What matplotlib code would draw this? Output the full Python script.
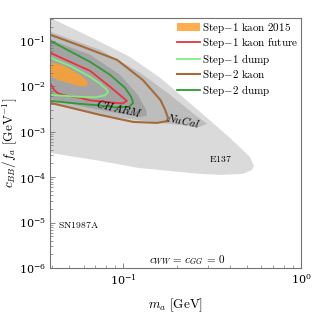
import numpy as np
import matplotlib
matplotlib.use('Agg')
from matplotlib import pyplot as plt
from matplotlib.patches import Patch
from matplotlib.lines import Line2D

plt.rcParams['mathtext.fontset'] = 'cm'
plt.rcParams['font.family'] = 'serif'
plt.rcParams['font.serif'] = ['DejaVu Serif']

# excluded regions (m_a [GeV], c_BB/f_a [GeV^-1])
e137_x = [0.035, 0.039, 0.0653, 0.109, 0.162, 0.271, 0.399, 0.516, 0.544, 0.530, 0.472, 0.351, 0.271, 0.121, 0.0743, 0.039, 0.035]
e137_y = [0.40, 0.321, 0.122, 0.0445, 0.0153, 0.00273, 7.3e-4, 2.79e-4, 1.77e-4, 1.44e-4, 1.18e-4, 1.12e-4, 1.18e-4, 1.6e-4, 2.28e-4, 3.41e-4, 3.5e-4]

nucal_x = [0.039, 0.0743, 0.125, 0.184, 0.254, 0.297, 0.271, 0.238, 0.142, 0.0743, 0.039]
nucal_y = [0.158, 0.0634, 0.0197, 0.00647, 0.00234, 0.00149, 0.00128, 0.00134, 0.00164, 0.00234, 0.0041]

charm_x = [0.039, 0.0653, 0.0962, 0.121, 0.135, 0.136, 0.125, 0.0846, 0.0573, 0.039]
charm_y = [0.105, 0.0492, 0.0178, 0.00647, 0.00302, 0.00223, 0.00212, 0.00273, 0.0037, 0.00528]

# Step-1 kaon 2015
kaon15_x = [0.039, 0.0421, 0.0449, 0.0479, 0.0504, 0.0537, 0.0573, 0.0612, 0.0636, 0.0628, 0.0589, 0.0558, 0.0524, 0.0491, 0.0460, 0.0431, 0.0409, 0.039]
kaon15_y = [0.0327, 0.0319, 0.0296, 0.0267, 0.0236, 0.0207, 0.0178, 0.0146, 0.0119, 0.0102, 0.00995, 0.0102, 0.0110, 0.0119, 0.0128, 0.0138, 0.0153, 0.0169]

# Step-1 kaon future
kaonfut_x = [0.039, 0.0504, 0.0653, 0.0846, 0.0987, 0.105, 0.1, 0.0846, 0.0743, 0.0653, 0.0573, 0.0472, 0.0431, 0.0409, 0.0395, 0.039]
kaonfut_y = [0.0545, 0.0344, 0.0218, 0.0097, 0.00585, 0.00477, 0.0042, 0.00441, 0.00465, 0.00489, 0.00555, 0.00631, 0.00698, 0.00834, 0.0107, 0.0113]

# Step-1 dump
dump1_x = [0.039, 0.0504, 0.0653, 0.0743, 0.0802, 0.0823, 0.0792, 0.0697, 0.0573, 0.0472, 0.039]
dump1_y = [0.0423, 0.0281, 0.0161, 0.0113, 0.00877, 0.00753, 0.00631, 0.0057, 0.00585, 0.00615, 0.00647]

# Step-2 kaon
kaon2_x = [0.039, 0.0596, 0.0925, 0.129, 0.162, 0.172, 0.179, 0.176, 0.155, 0.114, 0.0743, 0.0485, 0.039]
kaon2_y = [0.136, 0.0738, 0.0381, 0.0138, 0.00502, 0.00310, 0.00201, 0.00170, 0.00156, 0.00164, 0.00234, 0.00352, 0.00431]

# Step-2 dump
dump2_x = [0.039, 0.0653, 0.0846, 0.1026, 0.111, 0.114, 0.108, 0.0902, 0.0724, 0.0537, 0.039]
dump2_y = [0.1, 0.0344, 0.0178, 0.00922, 0.00585, 0.00431, 0.00352, 0.00343, 0.0038, 0.0042, 0.00477]

c_orange = '#ffa030'
c_red = '#e8333b'
c_lgreen = '#80f080'
c_brown = '#a46c38'
c_dgreen = '#2f9a35'

fig = plt.figure(figsize=(3.32, 3.12), dpi=100)
ax = fig.add_axes([0.1515, 0.141, 0.755, 0.801])

ax.fill(e137_x, e137_y, facecolor='0.855', edgecolor='none')
ax.fill(nucal_x, nucal_y, facecolor='0.74', edgecolor='none')
ax.fill(charm_x, charm_y, facecolor='0.64', edgecolor='none')
ax.fill(kaon15_x, kaon15_y, facecolor=c_orange, edgecolor='none', alpha=0.85)

lw = 1.3
ax.plot(kaon2_x, kaon2_y, color=c_brown, lw=1.5)
ax.plot(dump2_x, dump2_y, color=c_dgreen, lw=lw)
ax.plot(kaonfut_x, kaonfut_y, color=c_red, lw=lw)
ax.plot(dump1_x, dump1_y, color=c_lgreen, lw=lw)

ax.text(0.0962, 0.0033, r'$\mathit{CHARM}$', fontsize=8, rotation=-13, ha='center', va='center')
ax.text(0.217, 0.00178, r'$\mathit{NuCal}$', fontsize=8, rotation=-12, ha='center', va='center')
ax.text(0.351, 2.5e-4, r'$\mathrm{E137}$', fontsize=7, ha='center', va='center')
ax.text(0.0431, 8.8e-6, r'$\mathrm{SN1987A}$', fontsize=7, ha='left', va='center')
ax.text(0.545, 0.033, r'$c_{WW}\,=\,c_{GG}\,=\,0$', fontsize=8, ha='center', va='center', transform=ax.transAxes)

ax.set_xscale('log')
ax.set_yscale('log')
ax.set_xlim(0.039, 1.0)
ax.set_ylim(1e-6, 10**-0.5)
ax.set_yticks([1e-6, 1e-5, 1e-4, 1e-3, 1e-2, 1e-1])
ax.set_xticks([1e-1, 1e0])
ax.tick_params(which='both', direction='in', labelsize=8, color='0.45', pad=3)
ax.tick_params(which='major', length=3.5, width=0.6)
ax.tick_params(which='minor', length=2, width=0.5)
for s in ax.spines.values():
    s.set_color('0.45')
    s.set_linewidth(0.8)

ax.set_xlabel(r'$m_a\ [\mathrm{GeV}]$', fontsize=9.5)
ax.set_ylabel(r'$c_{BB}/f_a\ [\mathrm{GeV}^{-1}]$', fontsize=9.5)
ax.xaxis.set_label_coords(0.5, -0.112)
ax.yaxis.set_label_coords(-0.125, 0.5)

handles = [Patch(facecolor=c_orange, edgecolor='none', alpha=0.85),
           Line2D([], [], color=c_red, lw=lw),
           Line2D([], [], color=c_lgreen, lw=lw),
           Line2D([], [], color=c_brown, lw=1.5),
           Line2D([], [], color=c_dgreen, lw=lw)]
labels = [r'$\mathrm{Step{-}1\ kaon\ 2015}$', r'$\mathrm{Step{-}1\ kaon\ future}$',
          r'$\mathrm{Step{-}1\ dump}$', r'$\mathrm{Step{-}2\ kaon}$', r'$\mathrm{Step{-}2\ dump}$']
ax.legend(handles, labels, loc='upper right', frameon=False, fontsize=8,
          handlelength=2.0, handletextpad=0.2, labelspacing=0.12,
          borderaxespad=0.15, borderpad=0.1)

fig.savefig('out.png', dpi=100)
plt.close(fig)
